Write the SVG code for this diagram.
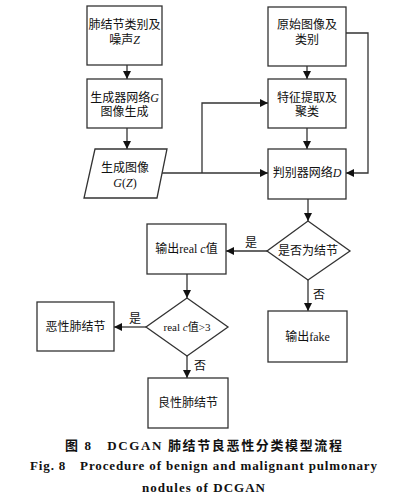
<svg xmlns="http://www.w3.org/2000/svg" width="403" height="500" viewBox="0 0 403 500">
<style>
.b{fill:#fff;stroke:#333;stroke-width:1.3}
.l{fill:none;stroke:#333;stroke-width:1.3}
.t{font-family:"Liberation Serif","Noto Sans CJK SC",serif;font-size:12px;fill:#111;text-anchor:middle}
.i{font-style:italic}
.cap{font-family:"Liberation Serif","Noto Sans CJK SC",serif;font-weight:bold;font-size:13px;fill:#111;text-anchor:middle}
</style>
<defs>
<marker id="a" viewBox="0 0 10 10" refX="10" refY="5" markerWidth="8" markerHeight="8" markerUnits="userSpaceOnUse" orient="auto">
<path d="M0,0 L10,5 L0,10 z" fill="#111"/>
</marker>
</defs>
<rect width="403" height="500" fill="#fff"/>
<g id="connectors">
<path class="l" d="M127,65 V79" marker-end="url(#a)"/>
<path class="l" d="M127,128 V149" marker-end="url(#a)"/>
<path class="l" d="M162,173 H268" marker-end="url(#a)"/>
<path class="l" d="M202,173 V103 H268" marker-end="url(#a)"/>
<path class="l" d="M307,66 V79" marker-end="url(#a)"/>
<path class="l" d="M307,128 V149" marker-end="url(#a)"/>
<path class="l" d="M346,33 H368 V173 H346" marker-end="url(#a)"/>
<path class="l" d="M308,199 V221" marker-end="url(#a)"/>
<path class="l" d="M267,251 H226" marker-end="url(#a)"/>
<path class="l" d="M308,280 V311" marker-end="url(#a)"/>
<path class="l" d="M187,274 V298" marker-end="url(#a)"/>
<path class="l" d="M146,327 H114" marker-end="url(#a)"/>
<path class="l" d="M187,356 V378" marker-end="url(#a)"/>
<text class="t" x="251" y="247">是</text>
<text class="t" x="319" y="299">否</text>
<text class="t" x="135" y="323">是</text>
<text class="t" x="200" y="370">否</text>
</g>
<g id="n1"><rect class="b" x="87" y="6" width="75" height="59"/><text class="t" x="124.5" y="29">肺结节类别及</text><text class="t" x="124.5" y="44">噪声<tspan class="i">Z</tspan></text></g>
<g id="n2"><rect class="b" x="87" y="79" width="75" height="49"/><text class="t" x="124.5" y="102">生成器网络<tspan class="i">G</tspan></text><text class="t" x="124.5" y="116">图像生成</text></g>
<g id="n3"><path class="b" d="M95,149 H167 L157,198 H84 Z"/><text class="t" x="125" y="172">生成图像</text><text class="t" x="125" y="187"><tspan class="i">G</tspan>(<tspan class="i">Z</tspan>)</text></g>
<g id="n4"><rect class="b" x="268" y="7" width="78" height="59"/><text class="t" x="307" y="29">原始图像及</text><text class="t" x="307" y="44">类别</text></g>
<g id="n5"><rect class="b" x="268" y="79" width="78" height="49"/><text class="t" x="307" y="102">特征提取及</text><text class="t" x="307" y="116">聚类</text></g>
<g id="n6"><rect class="b" x="268" y="149" width="78" height="50"/><text class="t" x="307" y="177">判别器网络<tspan class="i">D</tspan></text></g>
<g id="n7"><path class="b" d="M308,221 L350,251 L308,280 L267,251 Z"/><text class="t" x="308" y="255">是否为结节</text></g>
<g id="n8"><rect class="b" x="147" y="224" width="79" height="50"/><text class="t" x="186.5" y="253">输出real <tspan class="i">c</tspan>值</text></g>
<g id="n9"><rect class="b" x="268" y="311" width="79" height="51"/><text class="t" x="307.5" y="341">输出fake</text></g>
<g id="n10"><path class="b" d="M187,298 L228,327 L187,356 L146,327 Z"/><text class="t" x="187" y="331" style="font-size:11px">real <tspan class="i">c</tspan>值&gt;3</text></g>
<g id="n11"><rect class="b" x="37" y="302" width="77" height="49"/><text class="t" x="75.5" y="331">恶性肺结节</text></g>
<g id="n12"><rect class="b" x="148" y="378" width="80" height="50"/><text class="t" x="188" y="407">良性肺结节</text></g>
<g id="caption">
<text class="cap" x="203.5" y="450" textLength="277" lengthAdjust="spacing">图 8　DCGAN 肺结节良恶性分类模型流程</text>
<text class="cap" x="203.5" y="470" textLength="347" lengthAdjust="spacing">Fig. 8　Procedure of benign and malignant pulmonary</text>
<text class="cap" x="203.5" y="492" textLength="123" lengthAdjust="spacing">nodules of DCGAN</text>
</g>
</svg>
